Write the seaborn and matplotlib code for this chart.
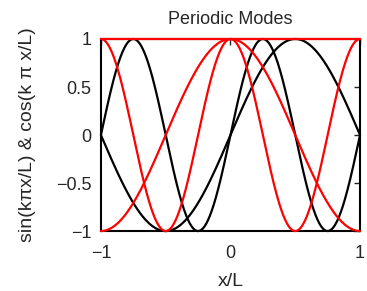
import numpy as np
import pandas as pd
import seaborn as sns
import matplotlib
matplotlib.use("Agg")
import matplotlib.pyplot as plt

# mode numbers shown in the figure
sin_modes = [1, 2]
cos_modes = [0, 1, 2]
x = np.linspace(-1, 1, 401)

# Build long-form tables for seaborn
sin_df = pd.concat([pd.DataFrame({'x': x, 'y': np.sin(k * np.pi * x), 'k': k}) for k in sin_modes])
cos_df = pd.concat([pd.DataFrame({'x': x, 'y': np.cos(k * np.pi * x), 'k': k}) for k in cos_modes])

sns.set_style('white')
plt.rcParams['font.family'] = ['Liberation Sans', 'DejaVu Sans']

fig = plt.figure(figsize=(3.67, 2.91), dpi=100)
ax = fig.add_axes([0.275, 0.206, 0.706, 0.660])

sns.lineplot(data=sin_df, x='x', y='y', units='k', estimator=None, color='black', lw=1.6, ax=ax)
sns.lineplot(data=cos_df, x='x', y='y', units='k', estimator=None, color='red', lw=1.6, ax=ax)
for ln in ax.lines:
    ln.set_clip_on(False)
    ln.set_zorder(5)

ax.set_xlim(-1, 1)
ax.set_ylim(-1, 1)
ax.set_xticks([-1, 0, 1])
ax.set_yticks([-1, -0.5, 0, 0.5, 1])
ax.set_xticklabels(['\u22121', '0', '1'])
ax.set_yticklabels(['\u22121', '\u22120.5', '0', '0.5', '1'])
ax.tick_params(direction='in', top=True, right=True, length=4, width=1, labelsize=13)
ax.tick_params(axis='x', pad=10)
ax.tick_params(axis='y', pad=7)

for s in ax.spines.values():
    s.set_visible(True)
    s.set_linewidth(1.5)
    s.set_color('black')

ax.set_title('Periodic Modes', fontsize=13, pad=11)
ax.set_xlabel('x/L', fontsize=14, labelpad=8)
ax.set_ylabel('sin(k\u03c0x/L) & cos(k \u03c0 x/L)', fontsize=14, labelpad=14)

fig.savefig('out.png', dpi=100)
